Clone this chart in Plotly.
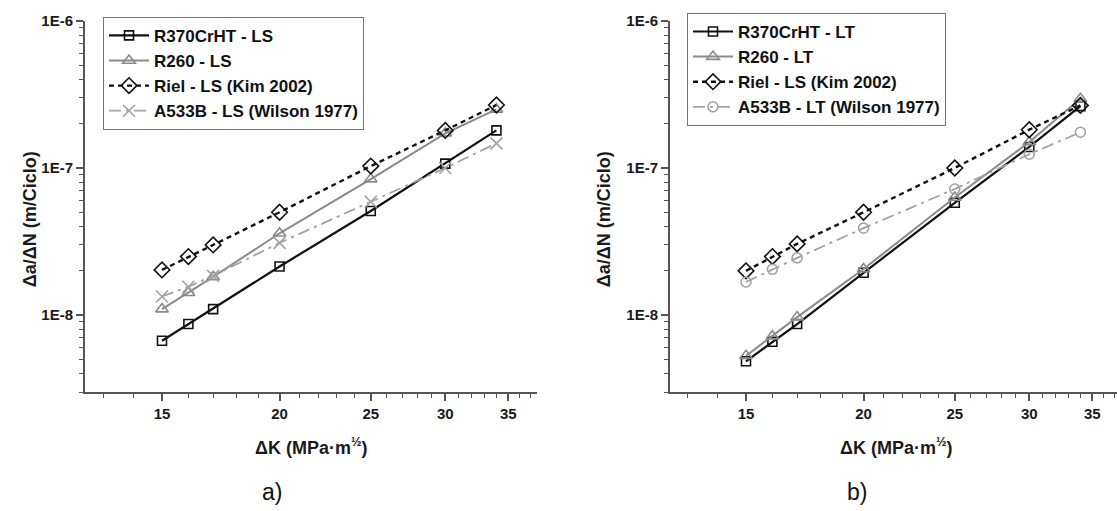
import plotly.graph_objects as go
import math

# ---------------- data ----------------
dK = [15, 16, 17, 20, 25, 30, 34]

# panel a) LS orientation
r370_ls = [6.7e-9, 8.7e-9, 1.1e-8, 2.14e-8, 5.1e-8, 1.07e-7, 1.8e-7]
r260_ls = [1.1e-8, 1.42e-8, 1.82e-8, 3.6e-8, 8.4e-8, 1.72e-7, 2.5e-7]
riel_ls = [2.03e-8, 2.5e-8, 3.0e-8, 5.0e-8, 1.03e-7, 1.8e-7, 2.68e-7]
a533b_ls = [1.34e-8, 1.56e-8, 1.85e-8, 3.1e-8, 5.9e-8, 1.0e-7, 1.47e-7]

# panel b) LT orientation
r370_lt = [4.86e-9, 6.6e-9, 8.7e-9, 1.94e-8, 5.8e-8, 1.39e-7, 2.63e-7]
r260_lt = [5.3e-9, 7.2e-9, 9.7e-9, 2.06e-8, 6.3e-8, 1.5e-7, 2.95e-7]
riel_lt = [2.0e-8, 2.5e-8, 3.05e-8, 5.0e-8, 1.0e-7, 1.82e-7, 2.66e-7]
a533b_lt = [1.68e-8, 2.05e-8, 2.45e-8, 3.9e-8, 7.2e-8, 1.24e-7, 1.75e-7]

names_a = ["R370CrHT - LS", "R260 - LS", "Riel - LS (Kim 2002)", "A533B - LS (Wilson 1977)"]
names_b = ["R370CrHT - LT", "R260 - LT", "Riel - LS (Kim 2002)", "A533B - LT (Wilson 1977)"]

x_major = [15, 20, 25, 30, 35]
x_minor = [13, 14, 16, 17, 18, 19, 21, 22, 23, 24, 26, 27, 28, 29, 31, 32, 33, 34, 36, 37]
y_major = [1e-8, 1e-7, 1e-6]
y_major_text = ["1E-8", "1E-7", "1E-6"]
y_minor = [m * 10.0 ** e for e in (-9, -8, -7) for m in range(2, 10) if m * 10.0 ** e >= 3e-9]

FONT = "Liberation Sans, Arial, sans-serif"
BLACK = "#111111"
GRAY = "#8a8a8a"
LGRAY = "#a2a2a2"
AXC = "#555555"

W, H = 1117, 511

fig = go.Figure()

def add_panel(xref, yref, legend, names, s370, s260, sriel, sa533, a533_symbol):
    specs = [
        (names[0], s370, BLACK, "solid", "square-open", 9, 2.2),
        (names[1], s260, GRAY, "solid", "triangle-up-open", 11, 2.0),
        (names[2], sriel, BLACK, "5px,4px", "diamond-open", 12, 2.4),
        (names[3], sa533, LGRAY, "12px,5px,3px,5px", a533_symbol,
         12 if a533_symbol.startswith("x") else 10, 1.8),
    ]
    for name, ys, col, dash, sym, size, lw in specs:
        fig.add_trace(go.Scatter(
            x=dK, y=ys, name=name, mode="lines+markers",
            xaxis=xref, yaxis=yref, legend=legend,
            line=dict(color=col, width=lw, dash=dash),
            marker=dict(symbol=sym, size=size, color=col,
                        line=dict(color=col, width=1.6)),
        ))

add_panel("x", "y", "legend", names_a, r370_ls, r260_ls, riel_ls, a533b_ls, "x-thin-open")
add_panel("x2", "y2", "legend2", names_b, r370_lt, r260_lt, riel_lt, a533b_lt, "circle-open")

# pixel geometry
pxdec = 941.0
left_a, right_a = 85, 537
left_b, right_b = 670, 1117
x15_a, x15_b = 162, 746
y_top, y_bot = 12, 390

def xrange(left, right, x15):
    lo = math.log10(15) - (x15 - left) / pxdec
    hi = lo + (right - left) / pxdec
    return [lo, hi]

yr = [math.log10(3e-9), -6]

axis_common = dict(
    type="log", showgrid=False, zeroline=False, showline=True,
    linecolor=AXC, linewidth=2, ticks="outside", ticklen=7, tickwidth=1.5,
    tickcolor=AXC, mirror=False,
    tickfont=dict(family=FONT, size=15, color="#1a1a1a", weight="bold"),
)

xa = dict(axis_common, tickmode="array", tickvals=x_major, ticktext=[str(v) for v in x_major],
          minor=dict(tickmode="array", tickvals=x_minor, ticks="outside", ticklen=4,
                     tickwidth=1.2, tickcolor=AXC, showgrid=False))
ya = dict(axis_common, tickmode="array", tickvals=y_major, ticktext=y_major_text,
          minor=dict(tickmode="array", tickvals=y_minor, ticks="outside", ticklen=4,
                     tickwidth=1.2, tickcolor=AXC, showgrid=False))

ydom = [1 - y_bot / H, 1 - y_top / H]

legend_font = dict(family=FONT, size=17, color=BLACK, weight="bold")

fig.update_layout(
    width=W, height=H,
    margin=dict(l=0, r=0, t=0, b=0),
    paper_bgcolor="white", plot_bgcolor="white",
    xaxis=dict(xa, domain=[left_a / W, right_a / W], range=xrange(left_a, right_a, x15_a), anchor="y"),
    yaxis=dict(ya, domain=ydom, range=yr, anchor="x"),
    xaxis2=dict(xa, domain=[left_b / W, right_b / W], range=xrange(left_b, right_b, x15_b), anchor="y2"),
    yaxis2=dict(ya, domain=ydom, range=yr, anchor="x2"),
    legend=dict(x=103 / W, y=1 - 8 / H, xanchor="left", yanchor="top",
                bgcolor="rgba(255,255,255,1)", bordercolor="#777777", borderwidth=1,
                font=legend_font, tracegroupgap=0, itemwidth=40),
    legend2=dict(x=687 / W, y=1 - 4 / H, xanchor="left", yanchor="top",
                 bgcolor="rgba(255,255,255,1)", bordercolor="#777777", borderwidth=1,
                 font=legend_font, tracegroupgap=0, itemwidth=40),
    showlegend=True,
)

title_font = dict(family=FONT, size=18, color="#1a1a1a", weight="bold")
xtitle = "ΔK (MPa·m<sup>½</sup>)"
ytitle = "Δa/ΔN (m/Ciclo)"
ann = [
    dict(text=xtitle, x=311 / W, y=1 - 445 / H, font=title_font),
    dict(text=xtitle, x=896 / W, y=1 - 445 / H, font=title_font),
    dict(text=ytitle, x=30 / W, y=1 - 214 / H, font=title_font, textangle=-90),
    dict(text=ytitle, x=604 / W, y=1 - 214 / H, font=title_font, textangle=-90),
    dict(text="a)", x=272 / W, y=1 - 492 / H, font=dict(family=FONT, size=23, color="#111111")),
    dict(text="b)", x=857 / W, y=1 - 492 / H, font=dict(family=FONT, size=23, color="#111111")),
]
for a in ann:
    fig.add_annotation(xref="paper", yref="paper", showarrow=False,
                       xanchor="center", yanchor="middle", **a)

fig.write_html("out.html")
